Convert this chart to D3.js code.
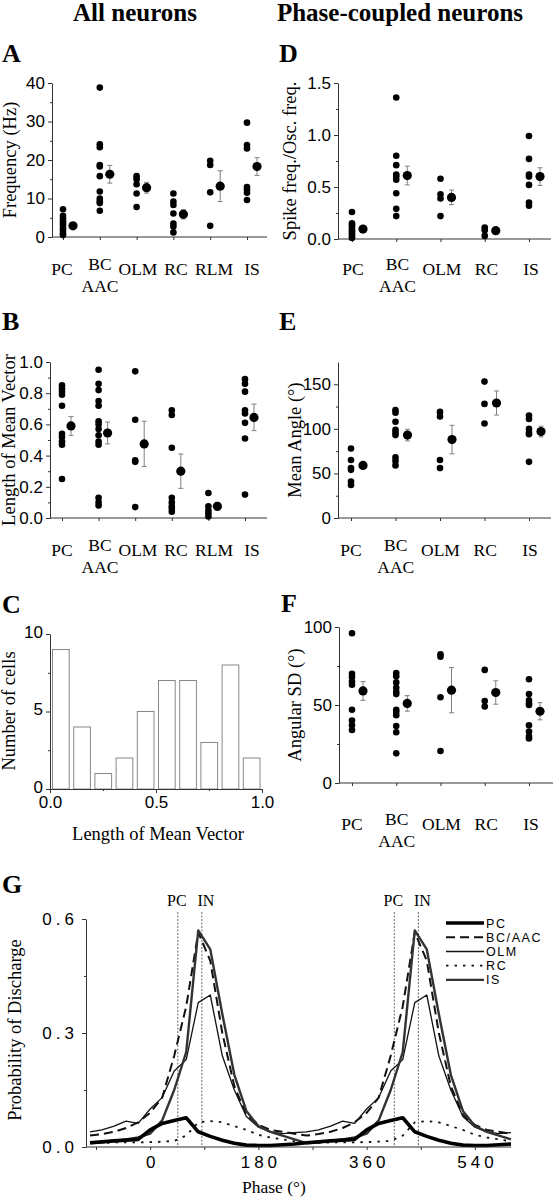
<!DOCTYPE html>
<html><head><meta charset="utf-8">
<script src="https://cdn.jsdelivr.net/npm/d3@7"></script>
<style>html,body{margin:0;padding:0;background:#fff;} svg{display:block;}</style>
</head><body>
<script>
// ---------- DATA ----------
const catsAll = ["PC", "BC/AAC", "OLM", "RC", "RLM", "IS"];
const catsPhase = ["PC", "BC/AAC", "OLM", "RC", "IS"];
const catLabels = {"PC": ["PC"], "BC/AAC": ["BC", "AAC"], "OLM": ["OLM"], "RC": ["RC"], "RLM": ["RLM"], "IS": ["IS"]};

// A: firing frequency (Hz)
const freqPC = [7.2, 5.5, 4.8, 4.1, 3.5, 2.9, 2.2, 1.6, 0.9, 0.5];
const freqBC = [38.8, 24.1, 23.3, 18.7, 18.3, 15.8, 11.8, 10.0, 9.3, 8.8, 6.8];
const freqOLM = [15.8, 15.0, 13.7, 11.3, 7.8];
const freqRC = [11.3, 9.2, 8.3, 6.1, 3.5, 2.7, 1.2];
const freqRLM = [19.8, 18.7, 11.6, 2.9];
const freqIS = [29.7, 23.9, 23.0, 13.0, 12.3, 11.5, 9.6];
const freqMean = [2.9, 16.3, 12.8, 5.9, 13.2, 18.3];
const freqSE = [0.4, 2.3, 1.4, 1.2, 4.0, 2.3];

// B: length of mean vector
const mvlPC = [0.85, 0.83, 0.81, 0.79, 0.72, 0.54, 0.52, 0.49, 0.47, 0.25];
const mvlBC = [0.95, 0.86, 0.82, 0.75, 0.72, 0.62, 0.60, 0.57, 0.53, 0.49, 0.47, 0.13, 0.10, 0.08];
const mvlOLM = [0.94, 0.63, 0.37, 0.36, 0.07];
const mvlRC = [0.69, 0.66, 0.45, 0.13, 0.10, 0.075, 0.06, 0.04];
const mvlRLM = [0.16, 0.075, 0.05, 0.03, 0.01];
const mvlIS = [0.89, 0.86, 0.81, 0.69, 0.67, 0.61, 0.51, 0.15];
const mvlMean = [0.59, 0.545, 0.475, 0.30, 0.075, 0.645];
const mvlSE = [0.06, 0.07, 0.145, 0.11, 0.025, 0.085];

// C: histogram of mean vector length
const histEdges = [0, 0.1, 0.2, 0.3, 0.4, 0.5, 0.6, 0.7, 0.8, 0.9, 1.0];
const histCounts = [9, 4, 1, 2, 5, 7, 7, 3, 8, 2];

// D: spike freq / osc freq
const ratioPC = [0.26, 0.15, 0.14, 0.12, 0.10, 0.08, 0.07, 0.05, 0.04, 0.02, 0.01];
const ratioBC = [1.36, 0.80, 0.71, 0.62, 0.60, 0.57, 0.44, 0.29, 0.22];
const ratioOLM = [0.58, 0.43, 0.39, 0.22];
const ratioRC = [0.11, 0.085, 0.03];
const ratioIS = [0.99, 0.77, 0.62, 0.60, 0.52, 0.35, 0.32];
const ratioMean = [0.095, 0.61, 0.40, 0.08, 0.60];
const ratioSE = [0.02, 0.09, 0.07, 0.01, 0.085];

// E: mean angle (deg)
const anglePC = [78, 65, 56, 54, 41, 37];
const angleBC = [121, 118, 108, 99, 96, 93, 68, 64, 59];
const angleOLM = [119, 114, 65, 56];
const angleRC = [153, 128, 106];
const angleIS = [115, 111, 100, 96, 94, 63];
const angleMean = [59, 93, 88, 129, 97];
const angleSE = [3, 6.5, 16, 13.5, 6];

// F: angular SD (deg)
const sdPC = [96, 70, 68, 65, 63, 47, 40, 37, 34];
const sdBC = [70.5, 68.5, 64.5, 61, 58.5, 57, 47, 45.5, 43.5, 36.5, 32.5, 19];
const sdOLM = [82.5, 81, 55, 20.5];
const sdRC = [72.5, 52.5, 49];
const sdIS = [66.5, 57, 53, 51, 50, 37, 33, 30, 28.5];
const sdMean = [59, 51, 59.5, 58, 46];
const sdSE = [6, 5, 14.5, 7.5, 5.5];

// G: probability of discharge vs phase
const phases = [-100, -80, -60, -40, -20, 0, 20, 40, 60, 80, 100, 120, 140, 160, 180, 200, 220, 240,
  260, 280, 300, 320, 340, 360, 380, 400, 420, 440, 460, 480, 500, 520, 540, 560, 580, 600];
const probPC = [0.011, 0.014, 0.016, 0.018, 0.02, 0.045, 0.062, 0.07, 0.077, 0.04, 0.028, 0.018, 0.01, 0.005, 0.004, 0.004, 0.006, 0.008,
  0.011, 0.014, 0.016, 0.018, 0.02, 0.045, 0.062, 0.07, 0.077, 0.04, 0.028, 0.018, 0.01, 0.005, 0.004, 0.004, 0.006, 0.008];
const probBC = [0.03, 0.034, 0.04, 0.05, 0.065, 0.09, 0.13, 0.24, 0.37, 0.565, 0.49, 0.30, 0.16, 0.085, 0.058, 0.045, 0.04, 0.035,
  0.03, 0.034, 0.04, 0.05, 0.065, 0.09, 0.13, 0.24, 0.37, 0.565, 0.49, 0.30, 0.16, 0.085, 0.058, 0.045, 0.04, 0.035];
const probOLM = [0.04, 0.045, 0.055, 0.068, 0.062, 0.1, 0.13, 0.2, 0.23, 0.38, 0.40, 0.24, 0.15, 0.08, 0.052, 0.04, 0.035, 0.038,
  0.04, 0.045, 0.055, 0.068, 0.062, 0.1, 0.13, 0.2, 0.23, 0.38, 0.40, 0.24, 0.15, 0.08, 0.052, 0.04, 0.035, 0.038];
const probRC = [0.01, 0.01, 0.012, 0.012, 0.012, 0.013, 0.014, 0.016, 0.03, 0.065, 0.068, 0.065, 0.055, 0.045, 0.032, 0.025, 0.02, 0.015,
  0.01, 0.01, 0.012, 0.012, 0.012, 0.013, 0.014, 0.016, 0.03, 0.065, 0.068, 0.065, 0.055, 0.045, 0.032, 0.025, 0.02, 0.015];
const probIS = [0.01, 0.012, 0.016, 0.02, 0.025, 0.035, 0.07, 0.15, 0.25, 0.57, 0.52, 0.35, 0.19, 0.095, 0.055, 0.04, 0.03, 0.02,
  0.01, 0.012, 0.016, 0.02, 0.025, 0.035, 0.07, 0.15, 0.25, 0.57, 0.52, 0.35, 0.19, 0.095, 0.055, 0.04, 0.03, 0.02];
const refPhases = [46, 86, 406, 446];
const refLabels = ["PC", "IN", "PC", "IN"];
const gTickVals = [-90, 0, 90, 180, 270, 360, 450, 540];
const gTickLabels = [0, 180, 360, 540];
const legendNames = ["PC", "BC/AAC", "OLM", "RC", "IS"];

// ---------- DRAWING ----------
const W = 554, H = 1200;
const svg = d3.select("body").append("svg").attr("width", W).attr("height", H);
const SERIF = "'Liberation Serif','Times New Roman',serif";
const SANS = "'Liberation Sans',Arial,sans-serif";
const AX = "#333";
const ERR = "#808080";
const LBL = "17.5px";

function styleAxis(sel) {
  sel.select(".domain").attr("stroke", AX).attr("stroke-width", 1);
  sel.selectAll(".tick line").attr("stroke", AX).attr("stroke-width", 1);
  sel.selectAll(".tick text").attr("fill", "#000").style("font-family", SANS).style("font-size", "17px");
}

function yLabel(text, x, y) {
  svg.append("text").attr("transform", `translate(${x},${y}) rotate(-90)`)
    .attr("text-anchor", "middle").style("font-family", SERIF).style("font-size", "18.5px").text(text);
}

function panelLetter(t, x, y) {
  svg.append("text").attr("x", x).attr("y", y).style("font-family", SERIF)
    .style("font-weight", "bold").style("font-size", "26px").text(t);
}

function dotPanel(c) {
  const y = d3.scaleLinear().domain(c.yDomain).range([c.y0, c.y1]);
  const x = d3.scalePoint().domain(c.cats).range(c.catRange);
  const xl = d3.scalePoint().domain(c.cats).range(c.labelRange);
  const g = svg.append("g");
  const ya = g.append("g").attr("transform", `translate(${c.axisX},0)`)
    .call(d3.axisLeft(y).tickValues(c.yTicks).tickSize(4).tickSizeOuter(0).tickPadding(3).tickFormat(c.fmt));
  styleAxis(ya);
  const ym = g.append("g").attr("transform", `translate(${c.axisX},0)`)
    .call(d3.axisLeft(y).tickValues(c.yMinor).tickSize(2).tickFormat(""));
  ym.select(".domain").remove();
  ym.selectAll(".tick line").attr("stroke", AX);
  g.append("line").attr("x1", c.axisX).attr("x2", c.xEnd).attr("y1", c.y0).attr("y2", c.y0)
    .attr("stroke", AX).attr("stroke-width", 1);
  const xa = g.append("g").attr("transform", `translate(0,${c.y0})`)
    .call(d3.axisBottom(x).tickSize(3).tickFormat(""));
  xa.select(".domain").remove();
  xa.selectAll(".tick line").attr("stroke", AX);
  c.cats.forEach(cat => {
    const lines = catLabels[cat];
    lines.forEach((ln, j) => {
      const by = lines.length === 1 ? c.labelBase : (j === 0 ? c.labelBase - 5 : c.labelBase + 17);
      g.append("text").attr("x", xl(cat)).attr("y", by).attr("text-anchor", "middle")
        .style("font-family", SERIF).style("font-size", LBL).text(ln);
    });
  });
  c.groups.forEach((vals, i) => {
    g.selectAll(null).data(vals).enter().append("circle")
      .attr("cx", x(c.cats[i])).attr("cy", d => y(d)).attr("r", 3.3).attr("fill", "#000");
  });
  c.means.forEach((m, i) => {
    const cx = x(c.cats[i]) + c.meanOff;
    const se = c.ses[i];
    g.append("line").attr("x1", cx).attr("x2", cx).attr("y1", y(m - se)).attr("y2", y(m + se))
      .attr("stroke", ERR).attr("stroke-width", 1);
    [m - se, m + se].forEach(v => g.append("line").attr("x1", cx - 2.5).attr("x2", cx + 2.5)
      .attr("y1", y(v)).attr("y2", y(v)).attr("stroke", ERR).attr("stroke-width", 1));
    g.append("circle").attr("cx", cx).attr("cy", y(m)).attr("r", 4.6).attr("fill", "#000");
  });
  yLabel(c.yLabel, c.yLabelX, (c.y0 + c.y1) / 2);
}

// Titles
svg.append("text").attr("x", 135).attr("y", 21).attr("text-anchor", "middle")
  .style("font-family", SERIF).style("font-weight", "bold").style("font-size", "25px").text("All neurons");
svg.append("text").attr("x", 400).attr("y", 21).attr("text-anchor", "middle")
  .style("font-family", SERIF).style("font-weight", "bold").style("font-size", "25px").text("Phase-coupled neurons");

panelLetter("A", 2, 62);
panelLetter("B", 2, 330);
panelLetter("C", 2, 613);
panelLetter("D", 279, 62);
panelLetter("E", 279, 330);
panelLetter("F", 281, 612);
panelLetter("G", 2, 893);

dotPanel({cats: catsAll, catRange: [63, 247], labelRange: [62, 252], axisX: 52, xEnd: 267,
  y0: 237, y1: 83, yDomain: [0, 40], yTicks: [0, 10, 20, 30, 40], yMinor: [5, 15, 25, 35], fmt: d3.format("d"),
  groups: [freqPC, freqBC, freqOLM, freqRC, freqRLM, freqIS], means: freqMean, ses: freqSE, meanOff: 10,
  labelBase: 275, yLabel: "Frequency (Hz)", yLabelX: 16});

dotPanel({cats: catsAll, catRange: [62, 245], labelRange: [62, 252], axisX: 50, xEnd: 267,
  y0: 518, y1: 362, yDomain: [0, 1], yTicks: [0, 0.2, 0.4, 0.6, 0.8, 1.0], yMinor: [0.1, 0.3, 0.5, 0.7, 0.9], fmt: d3.format(".1f"),
  groups: [mvlPC, mvlBC, mvlOLM, mvlRC, mvlRLM, mvlIS], means: mvlMean, ses: mvlSE, meanOff: 9,
  labelBase: 556, yLabel: "Length of Mean Vector", yLabelX: 15});

dotPanel({cats: catsPhase, catRange: [352, 529], labelRange: [353, 531], axisX: 338, xEnd: 551,
  y0: 239, y1: 83, yDomain: [0, 1.5], yTicks: [0, 0.5, 1.0, 1.5], yMinor: [0.25, 0.75, 1.25], fmt: d3.format(".1f"),
  groups: [ratioPC, ratioBC, ratioOLM, ratioRC, ratioIS], means: ratioMean, ses: ratioSE, meanOff: 11,
  labelBase: 275, yLabel: "Spike freq./Osc. freq.", yLabelX: 296});

dotPanel({cats: catsPhase, catRange: [351, 529], labelRange: [351, 530], axisX: 338, xEnd: 551,
  y0: 518, y1: 362, yDomain: [0, 175], yTicks: [0, 50, 100, 150], yMinor: [25, 75, 125], fmt: d3.format("d"),
  groups: [anglePC, angleBC, angleOLM, angleRC, angleIS], means: angleMean, ses: angleSE, meanOff: 12,
  labelBase: 556, yLabel: "Mean Angle (°)", yLabelX: 301});

dotPanel({cats: catsPhase, catRange: [352, 529], labelRange: [352, 531], axisX: 339, xEnd: 553,
  y0: 783, y1: 627, yDomain: [0, 100], yTicks: [0, 50, 100], yMinor: [25, 75], fmt: d3.format("d"),
  groups: [sdPC, sdBC, sdOLM, sdRC, sdIS], means: sdMean, ses: sdSE, meanOff: 11,
  labelBase: 830, yLabel: "Angular SD (°)", yLabelX: 301});

// ----- Panel C: histogram -----
(function () {
  const x = d3.scaleLinear().domain([0, 1]).range([50, 262]);
  const y = d3.scaleLinear().domain([0, 10]).range([789, 634]);
  const g = svg.append("g");
  g.selectAll("rect").data(histCounts).enter().append("rect")
    .attr("x", (d, i) => x(histEdges[i]) + 2.5)
    .attr("width", (d, i) => x(histEdges[i + 1]) - x(histEdges[i]) - 4.5)
    .attr("y", d => y(d)).attr("height", d => y(0) - y(d))
    .attr("fill", "#fff").attr("stroke", "#888").attr("stroke-width", 1);
  const ya = g.append("g").attr("transform", "translate(50,0)")
    .call(d3.axisLeft(y).tickValues([0, 5, 10]).tickSize(4).tickSizeOuter(0).tickPadding(3));
  styleAxis(ya);
  ya.selectAll(".tick text").attr("dy", "0.2em");
  const ym = g.append("g").attr("transform", "translate(50,0)").call(d3.axisLeft(y).tickValues([2.5, 7.5]).tickSize(2).tickFormat(""));
  ym.select(".domain").remove(); ym.selectAll(".tick line").attr("stroke", AX);
  const xa = g.append("g").attr("transform", "translate(0,789)")
    .call(d3.axisBottom(x).tickValues([0, 0.5, 1]).tickSize(4).tickSizeOuter(0).tickPadding(3).tickFormat(d3.format(".1f")));
  styleAxis(xa);
  const xm = g.append("g").attr("transform", "translate(0,789)").call(d3.axisBottom(x).tickValues([0.25, 0.75]).tickSize(2).tickFormat(""));
  xm.select(".domain").remove(); xm.selectAll(".tick line").attr("stroke", AX);
  svg.append("text").attr("x", 158).attr("y", 840).attr("text-anchor", "middle")
    .style("font-family", SERIF).style("font-size", "18.5px").text("Length of Mean Vector");
  yLabel("Number of cells", 15, 711);
})();

// ----- Panel G: phase histograms -----
(function () {
  const x = d3.scaleLinear().domain([-100, 600]).range([90, 511]);
  const y = d3.scaleLinear().domain([0, 0.6]).range([1147, 919]);
  const g = svg.append("g");
  refPhases.forEach((p, i) => {
    g.append("line").attr("x1", x(p)).attr("x2", x(p)).attr("y1", 912).attr("y2", 1147)
      .attr("stroke", "#555").attr("stroke-width", 0.9).attr("stroke-dasharray", "2,1.5");
    g.append("text").attr("x", x(p) + (refLabels[i] === "PC" ? -1 : 4)).attr("y", 906)
      .attr("text-anchor", "middle").style("font-family", SERIF).style("font-size", "16px").text(refLabels[i]);
  });
  const series = [
    {v: probRC, w: 1.8, dash: "2.5,6", col: "#111"},
    {v: probOLM, w: 1.3, dash: null, col: "#111"},
    {v: probBC, w: 2.0, dash: "9,5", col: "#111"},
    {v: probIS, w: 2.4, dash: null, col: "#333"},
    {v: probPC, w: 3.6, dash: null, col: "#000"}
  ];
  const line = d3.line().x((d, i) => x(phases[i])).y(d => y(d));
  series.forEach(s => {
    g.append("path").datum(s.v).attr("d", line).attr("fill", "none").attr("stroke", s.col)
      .attr("stroke-width", s.w).attr("stroke-dasharray", s.dash).attr("stroke-linejoin", "round");
  });
  const ya = g.append("g").attr("transform", "translate(86,0)")
    .call(d3.axisLeft(y).tickValues([0, 0.3, 0.6]).tickSize(4).tickSizeOuter(0).tickPadding(4).tickFormat(d3.format(".1f")));
  styleAxis(ya);
  ya.selectAll(".tick text").style("letter-spacing", "4px");
  const ym = g.append("g").attr("transform", "translate(86,0)").call(d3.axisLeft(y).tickValues([0.15, 0.45]).tickSize(2).tickFormat(""));
  ym.select(".domain").remove(); ym.selectAll(".tick line").attr("stroke", AX);
  g.append("line").attr("x1", 86).attr("x2", 511).attr("y1", 1147).attr("y2", 1147).attr("stroke", AX);
  const xa = g.append("g").attr("transform", "translate(0,1147)")
    .call(d3.axisBottom(x).tickValues(gTickVals).tickSize(3).tickPadding(6)
      .tickFormat(d => gTickLabels.includes(d) ? d : ""));
  xa.select(".domain").remove();
  styleAxis(xa);
  xa.selectAll(".tick text").style("letter-spacing", "4px").attr("dx", "2px");
  svg.append("text").attr("x", 274).attr("y", 1193).attr("text-anchor", "middle")
    .style("font-family", SERIF).style("font-size", "17.5px").text("Phase (°)");
  yLabel("Probability of Discharge", 21, 1030);
  const legStyles = [
    {w: 3.6, dash: null, col: "#000"},
    {w: 2.0, dash: "9,5", col: "#111"},
    {w: 1.5, dash: null, col: "#111"},
    {w: 1.8, dash: "2.5,6", col: "#111"},
    {w: 2.2, dash: null, col: "#333"}
  ];
  legendNames.forEach((n, i) => {
    const ly = 923 + i * 14.2;
    g.append("line").attr("x1", 446).attr("x2", 484).attr("y1", ly).attr("y2", ly)
      .attr("stroke", legStyles[i].col).attr("stroke-width", legStyles[i].w).attr("stroke-dasharray", legStyles[i].dash);
    g.append("text").attr("x", 486).attr("y", ly + 4.5).style("font-family", SANS).style("font-size", "12.5px")
      .style("letter-spacing", "1.6px").text(n);
  });
})();
</script>
</body></html>
